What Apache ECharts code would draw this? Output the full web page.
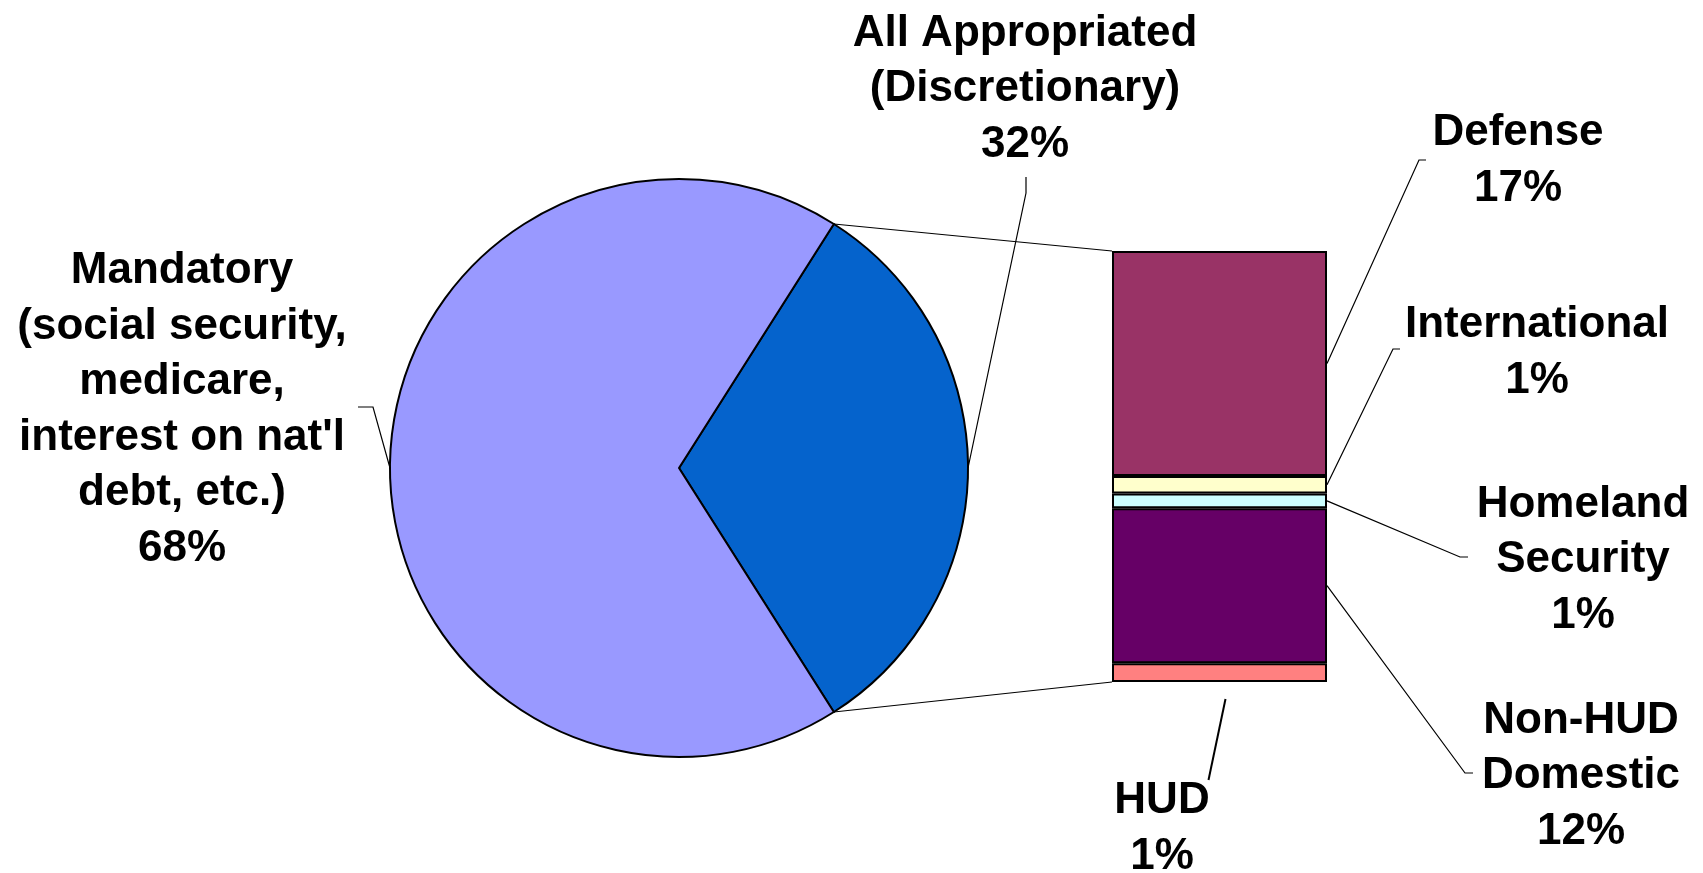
<!DOCTYPE html>
<html><head><meta charset="utf-8">
<script src="https://cdn.jsdelivr.net/npm/echarts@6/dist/echarts.min.js"></script>
<style>html,body{margin:0;padding:0;background:#fff}#c{width:1703px;height:873px}</style>
</head><body><div id="c"></div>
<script>
// ---- data ----
const pieNames = ['All Appropriated\n(Discretionary)', "Mandatory\n(social security,\nmedicare,\ninterest on nat'l\ndebt, etc.)"];
const pieValues = [32, 68];
const pieColors = ['#0563CC', '#9999FF'];
const barNames = ['Defense', 'International', 'Homeland\nSecurity', 'Non-HUD\nDomestic', 'HUD'];
const barValues = [16.7, 1.3, 1.1, 11.5, 1.4];
const barColors = ['#993366', '#FFFFCC', '#CCFFFF', '#660066', '#FF8080'];

// ---- layout ----
const PIE_C = [679, 468], PIE_R = 289;
const GRID = {left: 1112, top: 251, width: 215, height: 431};
const FONT = {fontFamily: '"Liberation Sans", Arial, sans-serif', fontWeight: 'bold', fontSize: 44, lineHeight: 55.5, color: '#000'};
const pieLabelPos = [[1025, 89], [182, 410]];
const barLabelPos = [[1518, 161], [1537, 353], [1583, 560], [1581, 776], [1162, 829]];
// elbow points of leader lines [bend, end]
const pieElbows = [[[1026, 193], [1026, 177]], [[373, 407], [358, 407]]];
const barElbows = [[[1419, 160], [1426, 160]], [[1393, 349], [1400, 349]], [[1460, 557], [1468, 557]], [[1465, 773], [1473, 773]], null];

const pieTotal = pieValues.reduce((a, b) => a + b, 0);
const barTotal = barValues.reduce((a, b) => a + b, 0);
const startAngle = pieValues[0] / pieTotal * 360 / 2;

const chart = echarts.init(document.getElementById('c'), null, {renderer: 'canvas'});

const series = [{
  type: 'pie', center: PIE_C, radius: PIE_R, startAngle: startAngle, clockwise: true,
  animation: false,
  data: pieNames.map((n, i) => ({name: n, value: pieValues[i], itemStyle: {color: pieColors[i]}})),
  itemStyle: {borderColor: '#000', borderWidth: 2},
  label: Object.assign({show: true, position: 'outside', align: 'center',
    formatter: p => p.name + '\n' + Math.round(p.percent) + '%'}, FONT),
  labelLine: {show: false},
  labelLayout: p => ({x: pieLabelPos[p.dataIndex][0], y: pieLabelPos[p.dataIndex][1], align: 'center', verticalAlign: 'middle'}),
  emphasis: {disabled: true}
}];
barNames.forEach((n, i) => {
  series.push({
    type: 'bar', name: n, stack: 'disc', barWidth: '100%', animation: false,
    xAxisIndex: 0, yAxisIndex: 0,
    data: [barValues[i]],
    itemStyle: {color: barColors[i], borderColor: '#000', borderWidth: 2},
    label: Object.assign({show: true, align: 'center',
      formatter: () => n + '\n' + Math.round(barValues[i]) + '%'}, FONT),
    labelLayout: () => ({x: barLabelPos[i][0], y: barLabelPos[i][1], align: 'center', verticalAlign: 'middle'}),
    emphasis: {disabled: true}
  });
});

chart.setOption({
  backgroundColor: '#fff',
  animation: false,
  grid: Object.assign({containLabel: false}, GRID),
  xAxis: {type: 'category', data: ['Discretionary'], show: false},
  yAxis: {type: 'value', min: 0, max: barTotal, inverse: true, show: false},
  series: series
});

// ---- connector & leader lines ----
function piePt(deg) {
  const a = deg * Math.PI / 180;
  return [PIE_C[0] + PIE_R * Math.cos(a), PIE_C[1] - PIE_R * Math.sin(a)];
}
const g = [];
const lineStyle = {stroke: '#000', lineWidth: 1.2, fill: null};
const right = GRID.left + GRID.width, left = GRID.left;
const topY = chart.convertToPixel({gridIndex: 0}, [0, 0])[1];
const botY = chart.convertToPixel({gridIndex: 0}, [0, barTotal])[1];
const splitTop = piePt(startAngle), splitBot = piePt(startAngle - pieValues[0] / pieTotal * 360);
g.push({type: 'polyline', shape: {points: [splitTop, [left, topY]]}, style: lineStyle, silent: true});
g.push({type: 'polyline', shape: {points: [splitBot, [left, botY]]}, style: lineStyle, silent: true});
// pie leaders
let ang = startAngle;
pieValues.forEach((v, i) => {
  const sweep = v / pieTotal * 360;
  const mid = ang - sweep / 2;
  ang -= sweep;
  const p = piePt(mid);
  g.push({type: 'polyline', shape: {points: [p].concat(pieElbows[i])}, style: lineStyle, silent: true});
});
// bar leaders
let cum = 0;
barValues.forEach((v, i) => {
  const midY = chart.convertToPixel({gridIndex: 0}, [0, cum + v / 2])[1];
  cum += v;
  if (barElbows[i]) {
    g.push({type: 'polyline', shape: {points: [[right, midY]].concat(barElbows[i])}, style: lineStyle, silent: true});
  }
});
// HUD leader (below the bar)
const hudX = chart.convertToPixel({gridIndex: 0}, [0, 0])[0] + 6;
g.push({type: 'line', shape: {x1: hudX, y1: botY + 17, x2: hudX - 17, y2: botY + 98}, style: {stroke: '#000', lineWidth: 2}, silent: true});

chart.setOption({graphic: g});
</script>
</body></html>
